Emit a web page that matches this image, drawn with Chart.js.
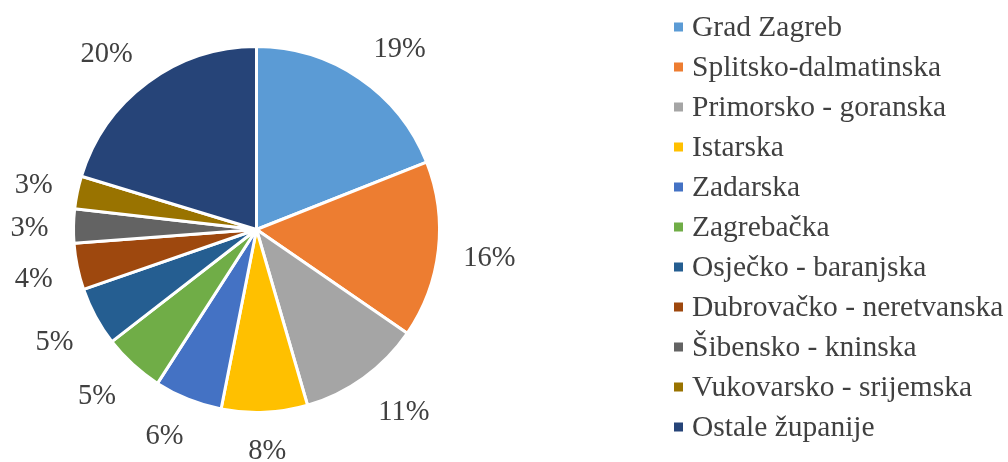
<!DOCTYPE html>
<html>
<head>
<meta charset="utf-8">
<script src="https://cdn.jsdelivr.net/npm/chart.js@4.4.0/dist/chart.umd.min.js"></script>
<style>
html,body{margin:0;padding:0;background:#fff;}
canvas{display:block;}
</style>
</head>
<body>
<canvas id="c" width="1008" height="462"></canvas>
<script>
const categories = ["Grad Zagreb","Splitsko-dalmatinska","Primorsko - goranska","Istarska","Zadarska","Zagrebačka","Osječko - baranjska","Dubrovačko - neretvanska","Šibensko - kninska","Vukovarsko - srijemska","Ostale županije"];
// shares (labels in the picture are these rounded)
const shares = [19.0, 15.6, 10.9, 7.6, 6.0, 5.4, 5.2, 4.1, 3.0, 2.9, 20.3];
const colors = ["#5B9BD5","#ED7D31","#A5A5A5","#FFC000","#4472C4","#70AD47","#255E91","#9E480E","#636363","#997300","#264478"];

const FONT = "'Liberation Serif','Times New Roman',serif";
const TEXT = "#404040";

const clamp = (t) => Math.max(-1, Math.min(1, t));

const labelPlugin = {
  id: 'pieLabels',
  afterDatasetsDraw(chart) {
    const ctx = chart.ctx;
    const meta = chart.getDatasetMeta(0);
    const data = chart.data.datasets[0].data;
    const total = data.reduce((a, b) => a + b, 0);
    ctx.save();
    ctx.font = "28.5px " + FONT;
    ctx.fillStyle = TEXT;
    ctx.textAlign = 'center';
    ctx.textBaseline = 'middle';
    meta.data.forEach((arc, i) => {
      const p = arc.getProps(['x','y','startAngle','endAngle','outerRadius'], true);
      const mid = (p.startAngle + p.endAngle) / 2;
      const txt = Math.round(data[i] / total * 100) + '%';
      const w = ctx.measureText(txt).width;
      const h = 22;
      const d = p.outerRadius + 25;
      const cx = Math.cos(mid), cy = Math.sin(mid);
      const x = p.x + d * cx + (w / 2) * clamp(cx * 2);
      const y = p.y + d * cy + (h / 2) * clamp(cy * 2);
      ctx.fillText(txt, x, y + 3);
    });
    ctx.restore();
  }
};

const legendPlugin = {
  id: 'sideLegend',
  afterDraw(chart) {
    const ctx = chart.ctx;
    const ds = chart.data.datasets[0];
    ctx.save();
    ctx.font = "29.5px " + FONT;
    ctx.textBaseline = 'middle';
    ctx.textAlign = 'left';
    chart.data.labels.forEach((lab, i) => {
      const y = 27 + 40 * i;
      ctx.fillStyle = ds.backgroundColor[i];
      ctx.fillRect(674, y - 4.5, 9, 9);
      ctx.fillStyle = TEXT;
      ctx.fillText(lab, 692, y + 1);
    });
    ctx.restore();
  }
};

new Chart(document.getElementById('c'), {
  type: 'pie',
  data: {
    labels: categories,
    datasets: [{
      data: shares,
      backgroundColor: colors,
      borderColor: '#ffffff',
      borderWidth: 3
    }]
  },
  options: {
    responsive: false,
    animation: false,
    layout: { padding: { left: 72, right: 567, top: 45, bottom: 48 } },
    plugins: {
      legend: { display: false },
      tooltip: { enabled: false }
    }
  },
  plugins: [labelPlugin, legendPlugin]
});
</script>
</body>
</html>
